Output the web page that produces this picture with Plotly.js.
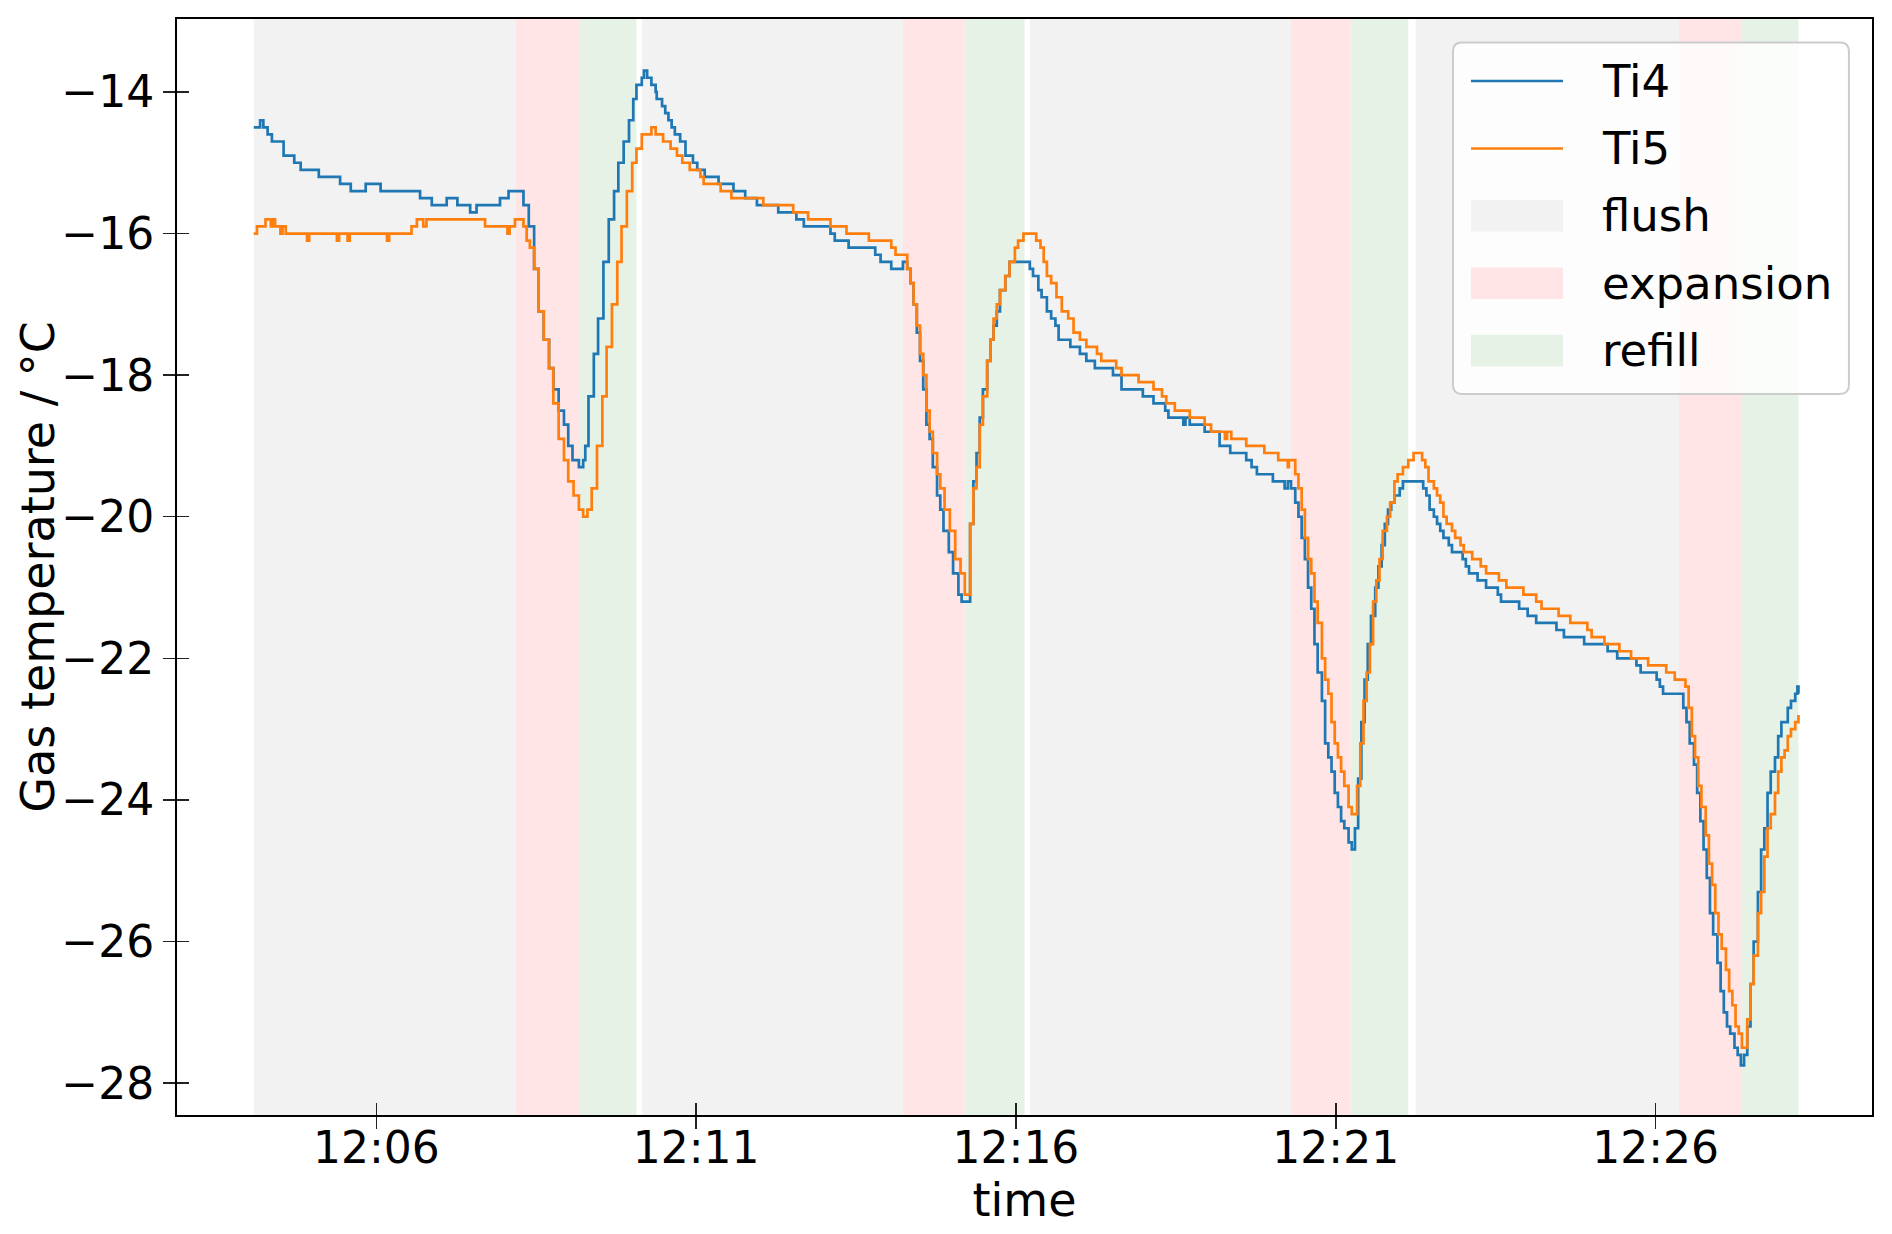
<!DOCTYPE html>
<html>
<head>
<meta charset="utf-8">
<script src="https://cdn.plot.ly/plotly-3.0.1.min.js"></script>
<style>
  html, body { margin: 0; padding: 0; background: #fff; }
  #plot { width: 1892px; height: 1234px; }
</style>
</head>
<body>
<div id="plot"></div>
<script>
// times are seconds after 12:00:00, values in degC
const ti4Sec = [245, 251, 254, 258, 262, 273, 283, 289, 306, 326, 336, 350, 364, 401, 412, 426, 436, 448, 454, 476, 484,
  498, 503, 508, 512, 517, 522, 526, 531, 536, 540, 544, 550, 554, 556, 559, 564, 568, 573, 578, 583, 587, 592, 597, 601, 604,
  609, 611, 614, 618, 622, 623, 628, 631, 634, 637, 640, 645, 650, 657, 661, 668, 681, 695, 706, 717, 737, 754, 761, 786, 790,
  803, 828, 833, 843, 854, 858, 861, 864, 867, 870, 873, 876, 879, 882, 886, 889, 892, 897, 901, 906, 909, 914, 917, 920, 923,
  926, 929, 933, 936, 939, 942, 945, 950, 954, 973, 976, 981, 984, 989, 993, 997, 1000, 1011, 1020, 1026, 1034, 1051, 1059,
  1079, 1089, 1100, 1103, 1117, 1119, 1123, 1137, 1151, 1161, 1176, 1181, 1186, 1201, 1212, 1215, 1218, 1222, 1225, 1228,
  1231, 1234, 1237, 1240, 1243, 1247, 1250, 1253, 1256, 1259, 1262, 1265, 1268, 1272, 1275, 1278, 1281, 1284, 1287, 1290,
  1293, 1297, 1300, 1303, 1306, 1309, 1312, 1315, 1320, 1323, 1342, 1345, 1348, 1352, 1355, 1358, 1361, 1366, 1369, 1379,
  1382, 1385, 1393, 1401, 1412, 1415, 1432, 1440, 1448, 1467, 1474, 1493, 1515, 1524, 1542, 1546, 1561, 1564, 1567, 1586,
  1589, 1592, 1596, 1599, 1602, 1605, 1608, 1611, 1614, 1618, 1621, 1624, 1627, 1630, 1634, 1637, 1640, 1643, 1646, 1649,
  1652, 1656, 1659, 1662, 1665, 1668, 1672, 1675, 1678, 1684, 1687, 1691, 1693, 1694];
const ti4Val = [-14.5, -14.4, -14.5, -14.6, -14.7, -14.9, -15.0, -15.1, -15.2, -15.3, -15.4, -15.3, -15.4, -15.5, -15.6, -15.5,
  -15.6, -15.7, -15.6, -15.5, -15.4,
  -15.6, -15.9, -16.5, -17.1, -17.5, -17.9, -18.2, -18.5, -18.7, -19.0, -19.2, -19.3, -19.2, -19.0, -18.3, -17.7, -17.2, -16.4,
  -15.8, -15.4, -15.0, -14.7, -14.4, -14.1, -13.9,
  -13.8, -13.7, -13.8, -13.9, -14.0, -14.1, -14.2, -14.3, -14.4, -14.5, -14.6, -14.7, -14.9, -15.0, -15.1, -15.2, -15.3, -15.4,
  -15.5, -15.6, -15.7, -15.8, -15.9, -16.0, -16.1,
  -16.2, -16.3, -16.4, -16.5, -16.4, -16.5, -16.7, -17.0, -17.4, -17.8, -18.2, -18.7, -18.9, -19.3, -19.7, -19.9, -20.2, -20.5,
  -20.8, -21.1, -21.2, -21.2, -20.1, -19.5, -19.1,
  -18.6, -18.2, -17.8, -17.5, -17.3, -17.1, -16.8, -16.6, -16.4, -16.5, -16.6, -16.8, -16.9, -17.1, -17.2, -17.3, -17.5, -17.6,
  -17.7, -17.8, -17.9, -18.0, -18.2,
  -18.3, -18.4, -18.5, -18.6, -18.7, -18.6, -18.7, -18.8, -19.0, -19.1, -19.2, -19.3, -19.4, -19.5, -19.6, -19.5, -19.6, -19.8,
  -20.0, -20.3,
  -20.6, -21.0, -21.3, -21.8, -22.2, -22.6, -23.2, -23.4, -23.6, -23.9, -24.1, -24.3, -24.4, -24.6, -24.7, -24.4, -23.7, -22.9,
  -22.3, -21.8,
  -21.4, -21.0, -20.7, -20.4, -20.1, -19.9, -19.8, -19.7, -19.6, -19.5, -19.6, -19.7, -19.9, -20.0, -20.1, -20.2, -20.3, -20.4,
  -20.5, -20.6,
  -20.7, -20.8, -20.9, -21.0, -21.1, -21.2, -21.3, -21.4, -21.5, -21.6, -21.7, -21.8, -21.9, -22.0, -22.1, -22.2, -22.3, -22.4,
  -22.5, -22.7,
  -22.9, -23.2, -23.5, -23.9, -24.3, -24.7, -25.1, -25.6, -25.9, -26.3, -26.7, -27.0, -27.2, -27.3, -27.5, -27.6, -27.75, -27.6,
  -27.2, -26.6,
  -26.0, -25.3, -24.7, -24.4, -23.9, -23.6, -23.4, -23.1, -22.9, -22.7, -22.6, -22.5, -22.4, -22.5];

const ti5Sec = [245, 248, 256, 261, 263, 265, 270, 272, 275, 295, 297, 323, 325, 333, 335, 370, 372, 393, 398, 404, 407, 462,
  483, 485, 490, 498, 501, 504, 508, 512, 517, 522, 526, 531, 536, 540, 545, 550, 554, 558, 562, 567, 572, 576, 581, 586, 590,
  595, 600, 604, 609, 618, 622, 629, 636, 642, 647, 654, 664, 667, 683, 693, 723, 751, 765, 786, 801, 822, 843, 847, 858, 861,
  864, 867, 870, 873, 876, 879, 882, 886, 889, 893, 898, 903, 908, 912, 915, 917, 920, 923, 926, 929, 933, 936, 939, 942, 945,
  950, 954, 959, 962, 967, 979, 983, 986, 989, 993, 998, 1003, 1009, 1014, 1020, 1026, 1036, 1040, 1054, 1059, 1075, 1089,
  1097, 1101, 1109, 1123, 1137, 1143, 1156, 1158, 1162, 1176, 1193, 1206, 1215, 1216, 1222, 1225, 1228, 1231, 1234, 1237,
  1240, 1243, 1247, 1250, 1253, 1256, 1259, 1262, 1265, 1268, 1272, 1275, 1279, 1280, 1283, 1286, 1289, 1292, 1295, 1298,
  1301, 1304, 1308, 1311, 1315, 1318, 1323, 1328, 1333, 1341, 1344, 1347, 1352, 1355, 1358, 1361, 1364, 1369, 1372, 1377,
  1380, 1388, 1396, 1401, 1413, 1420, 1436, 1448, 1453, 1469, 1480, 1496, 1500, 1512, 1526, 1537, 1553, 1570, 1578, 1588,
  1591, 1594, 1597, 1600, 1603, 1607, 1610, 1613, 1616, 1619, 1622, 1626, 1629, 1632, 1635, 1638, 1641, 1645, 1646, 1649,
  1652, 1656, 1659, 1662, 1665, 1668, 1672, 1675, 1678, 1681, 1684, 1687, 1691, 1694];
const ti5Val = [-16.0, -15.9, -15.8, -15.9, -15.8, -15.9, -16.0, -15.9, -16.0, -16.1, -16.0, -16.1, -16.0, -16.1, -16.0, -16.1,
  -16.0, -15.9, -15.8, -15.9, -15.8, -15.9,
  -16.0, -15.9, -15.8, -15.9, -16.1, -16.2, -16.5, -17.1, -17.5, -17.9, -18.4, -18.9, -19.2, -19.5, -19.7, -19.9, -20.0, -19.9,
  -19.6, -19.0, -18.3, -17.6, -17.0, -16.4, -15.9,
  -15.4, -15.0, -14.8, -14.6, -14.5, -14.6, -14.7, -14.8, -14.9, -15.0, -15.1, -15.2, -15.3, -15.4, -15.5, -15.6, -15.7, -15.8,
  -15.9, -16.0, -16.1, -16.2, -16.3, -16.5, -16.7,
  -17.0, -17.3, -17.7, -18.0, -18.5, -18.8, -19.1, -19.4, -19.6, -19.9, -20.2, -20.6, -20.8, -21.1, -21.1, -20.1, -19.6, -19.3,
  -18.7, -18.3, -17.8, -17.5, -17.2, -17.0, -16.8,
  -16.6, -16.4, -16.2, -16.1, -16.0, -16.1, -16.2, -16.4, -16.6, -16.7, -16.9, -17.1, -17.2, -17.4, -17.5, -17.6, -17.7, -17.8,
  -17.9, -18.0, -18.1, -18.2,
  -18.3, -18.4, -18.5, -18.6, -18.7, -18.8, -18.9, -18.8, -18.9, -19.0, -19.1, -19.2, -19.3, -19.2, -19.4, -19.6, -19.9, -20.3,
  -20.6, -20.8,
  -21.2, -21.5, -22.0, -22.3, -22.5, -22.9, -23.2, -23.4, -23.6, -23.8, -24.1, -24.2, -24.2, -23.8, -23.2, -22.6, -22.2, -21.8,
  -21.2, -20.9,
  -20.6, -20.2, -20.0, -19.8, -19.5, -19.4, -19.3, -19.2, -19.1, -19.2, -19.3, -19.5, -19.6, -19.7, -19.8, -20.0, -20.1, -20.2,
  -20.3, -20.4,
  -20.5, -20.6, -20.7, -20.8, -20.9, -21.0, -21.1, -21.2, -21.3, -21.4, -21.5, -21.6, -21.7, -21.8, -21.9, -22.0, -22.1, -22.2,
  -22.3, -22.4,
  -22.7, -23.1, -23.4, -23.8, -24.1, -24.5, -24.9, -25.2, -25.6, -25.9, -26.1, -26.4, -26.7, -26.9, -27.2, -27.3, -27.5, -27.5,
  -27.1, -26.6,
  -26.2, -25.6, -25.3, -24.8, -24.4, -24.2, -23.9, -23.6, -23.4, -23.3, -23.1, -23.0, -22.9, -22.8];

// process phases (start / end, seconds after 12:00:00)
const flushStart = [245, 609, 973, 1335];
const flushEnd = [491, 854, 1218, 1582];
const expansionStart = [491, 854, 1218, 1582];
const expansionEnd = [551, 912, 1274, 1641];
const refillStart = [551, 912, 1274, 1641];
const refillEnd = [604, 968, 1328, 1694];

const legendNames = ['Ti4', 'Ti5', 'flush', 'expansion', 'refill'];
const legendKinds = ['line', 'line', 'patch', 'patch', 'patch'];

const COLORS = {
    Ti4: '#1f77b4',
    Ti5: '#ff7f0e',
    flush: '#f2f2f2',
    expansion: '#ffe5e5',
    refill: '#e6f2e6'
};

const DAY = '2024-01-01';
const FONT = 'DejaVu Sans, sans-serif';

function pad(n) {
    return String(n).padStart(2, '0');
}

// seconds after 12:00:00 -> date string for the date axis
function stamp(sec) {
    const h = 12 + Math.floor(sec / 3600);
    const m = Math.floor((sec % 3600) / 60);
    const s = sec % 60;
    return `${DAY} ${pad(h)}:${pad(m)}:${pad(s)}`;
}

// Build one rect shape per phase interval
function phaseShapes(starts, ends, color) {
    return starts.map((s, i) => ({
        type: 'rect',
        xref: 'x',
        yref: 'paper',
        x0: stamp(s),
        x1: stamp(ends[i]),
        y0: 0,
        y1: 1,
        fillcolor: color,
        line: { width: 0 },
        layer: 'below'
    }));
}

// Legend drawn by hand (matplotlib style: long line / big patch keys)
const LEG = { x0: 0.7528, x1: 0.9864, y0: 0.6578, y1: 0.9786, rx: 0.0053, ry: 0.0082 };
const legKeyX0 = 0.7634, legKeyX1 = 0.8177, legTextX = 0.8395;
const legRowTop = 0.9434, legRowStep = 0.0615, legPatchHalf = 0.0144;

function legendBoxPath() {
    const { x0, x1, y0, y1, rx, ry } = LEG;
    return `M${x0 + rx},${y1} L${x1 - rx},${y1} Q${x1},${y1} ${x1},${y1 - ry} ` +
        `L${x1},${y0 + ry} Q${x1},${y0} ${x1 - rx},${y0} L${x0 + rx},${y0} ` +
        `Q${x0},${y0} ${x0},${y0 + ry} L${x0},${y1 - ry} Q${x0},${y1} ${x0 + rx},${y1} Z`;
}

function legendShapes() {
    let out = [{
        type: 'path', xref: 'paper', yref: 'paper', path: legendBoxPath(),
        fillcolor: 'rgba(255,255,255,0.8)', line: { color: '#cccccc', width: 2 }, layer: 'above'
    }];
    legendNames.forEach((name, i) => {
        const yc = legRowTop - i * legRowStep;
        if (legendKinds[i] === 'line') {
            out.push({
                type: 'line', xref: 'paper', yref: 'paper',
                x0: legKeyX0, x1: legKeyX1, y0: yc, y1: yc,
                line: { color: COLORS[name], width: 2.6 }, layer: 'above'
            });
        } else {
            out.push({
                type: 'rect', xref: 'paper', yref: 'paper',
                x0: legKeyX0, x1: legKeyX1, y0: yc - legPatchHalf, y1: yc + legPatchHalf,
                fillcolor: COLORS[name], line: { width: 0 }, layer: 'above'
            });
        }
    });
    return out;
}

function legendLabels() {
    return legendNames.map((name, i) => ({
        xref: 'paper', yref: 'paper',
        x: legTextX, y: legRowTop - i * legRowStep,
        xanchor: 'left', yanchor: 'middle',
        text: name, showarrow: false,
        font: { family: FONT, size: 45, color: 'black' }
    }));
}

let shapes = [].concat(
    phaseShapes(flushStart, flushEnd, COLORS.flush),
    phaseShapes(expansionStart, expansionEnd, COLORS.expansion),
    phaseShapes(refillStart, refillEnd, COLORS.refill),
    legendShapes()
);

let traces = [
    {
        x: ti4Sec.map(stamp),
        y: ti4Val,
        type: 'scatter',
        mode: 'lines',
        line: { color: COLORS.Ti4, width: 2.7, shape: 'hv' },
        name: 'Ti4'
    },
    {
        x: ti5Sec.map(stamp),
        y: ti5Val,
        type: 'scatter',
        mode: 'lines',
        line: { color: COLORS.Ti5, width: 2.7, shape: 'hv' },
        name: 'Ti5'
    },
    // empty trace so the overlay axes (inner half of the ticks) get drawn
    { x: [], y: [], xaxis: 'x2', yaxis: 'y2', type: 'scatter', mode: 'lines', showlegend: false }
];

const xRange = [stamp(173), stamp(1763)];
const yRange = [-28.45, -12.97];

const tickStyle = { ticklen: 12, tickwidth: 1.5, tickcolor: '#222', showgrid: false, zeroline: false };

// y axis title as a rotated annotation, so its distance to the axis can be set exactly
const yTitle = {
    xref: 'paper', yref: 'paper',
    x: -0.0823, y: 0.5,
    xanchor: 'center', yanchor: 'middle',
    textangle: -90,
    text: 'Gas temperature / °C', showarrow: false,
    font: { family: FONT, size: 46, color: 'black' }
};

let layout = {
    width: 1892,
    height: 1234,
    margin: { l: 177, r: 20, t: 19, b: 119 },
    paper_bgcolor: 'white',
    plot_bgcolor: 'white',
    font: { family: FONT, size: 44, color: 'black' },
    showlegend: false,
    xaxis: Object.assign({
        type: 'date',
        range: xRange,
        tick0: stamp(360),
        dtick: 300000,
        tickformat: '%H:%M',
        ticks: 'outside',
        ticklabelstandoff: -19,
        showline: true,
        linecolor: 'black',
        linewidth: 2,
        mirror: true,
        tickfont: { family: FONT, size: 44 },
        title: { text: 'time', font: { family: FONT, size: 46 }, standoff: 12 }
    }, tickStyle),
    yaxis: Object.assign({
        range: yRange,
        tick0: -28,
        dtick: 2,
        ticks: 'outside',
        showline: true,
        linecolor: 'black',
        linewidth: 2,
        mirror: true,
        tickfont: { family: FONT, size: 44 }
    }, tickStyle),
    xaxis2: Object.assign({
        type: 'date',
        overlaying: 'x',
        anchor: 'y2',
        side: 'bottom',
        range: xRange,
        tick0: stamp(360),
        dtick: 300000,
        ticks: 'inside',
        showticklabels: false,
        showline: false
    }, tickStyle),
    yaxis2: Object.assign({
        overlaying: 'y',
        anchor: 'x2',
        side: 'left',
        range: yRange,
        tick0: -28,
        dtick: 2,
        ticks: 'inside',
        showticklabels: false,
        showline: false
    }, tickStyle),
    shapes: shapes,
    annotations: legendLabels().concat([yTitle])
};

Plotly.newPlot('plot', traces, layout, { displayModeBar: false, staticPlot: true });
</script>
</body>
</html>
